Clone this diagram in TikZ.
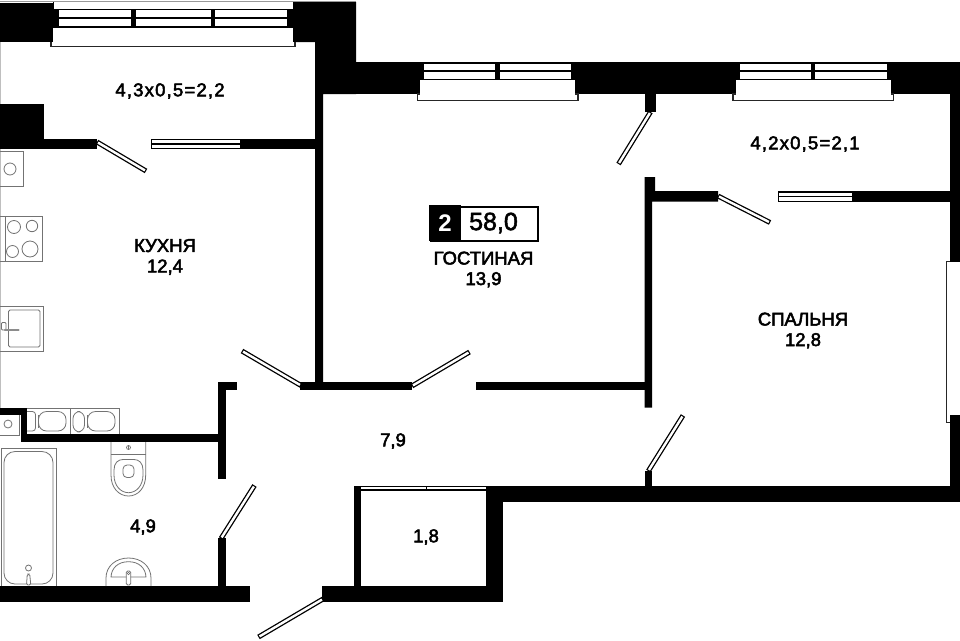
\documentclass[tikz,border=0pt]{standalone}
\usepackage{fontspec}
\setmainfont{Liberation Sans}
\newfontfamily\spacedfont[LetterSpace=6.5]{Liberation Sans}
\newcommand{\med}[1]{\special{pdf:code q 2 Tr 0.5 w}#1\special{pdf:code Q}}
\tikzset{
  x=1pt,y=-1pt,
  wall/.style={fill=black,draw=none},
  fixt/.style={draw=black!55,line width=0.8pt,fill=none},
  label/.style={inner sep=0pt,align=center,font=\fontsize{18.5}{20.5}\selectfont,text=black},
  sill/.style={fill=white,draw=black!85,line width=1.1pt},
  pane/.style={fill=white,draw=none}
}
\newcommand{\doorleaf}[2]{%
  \draw[black,line width=5pt] #1 -- #2;
  \draw[white,line width=2.4pt,shorten >=1.2pt,shorten <=1.2pt] #1 -- #2;}
\newcommand{\slider}[3]{% x0 x1 y-top
  \fill[black] (#1,#3) rectangle (#2,#3+10.4);
  \fill[white] (#1+0.8,#3+1.2) rectangle (#2,#3+4.4);
  \fill[white] (#1+0.8,#3+6) rectangle (#2,#3+9.2);}
\begin{document}
\begin{tikzpicture}
\useasboundingbox (0,0) rectangle (960,640);
\fill[white] (0,0) rectangle (960,640);
% thin grey outer lines
\draw[black!25,line width=1.2pt] (0.5,42) -- (0.5,104);
\draw[black!25,line width=1.2pt] (0.5,149) -- (0.5,408);
\draw[black!40,line width=1pt] (0,1) -- (356,1);
% ---------- walls
\fill[wall] (0,3) rectangle (53,42);
\fill[wall] (293,2) -- (356,2) -- (356,94) -- (323,94) -- (323,382) -- (315,382) -- (315,95) -- (315,42) -- (293,42) -- cycle;
\fill[wall] (356,62) rectangle (960,94);
\fill[wall] (950,62) rectangle (960,262);
\fill[wall] (950,415) rectangle (960,502);
\fill[wall] (0,104) rectangle (44,149);
\fill[wall] (44,138.5) rectangle (97,149);
\fill[wall] (240,138.5) rectangle (315,149);
\fill[wall] (644.7,94) rectangle (656,112);
\fill[wall] (644.7,177) -- (655,177) -- (655,191) -- (718,191) -- (718,201.5) -- (652,201.5) -- (652,407.7) -- (644.7,407.7) -- cycle;
\fill[wall] (851,191) rectangle (950,202);
\fill[wall] (300,382) rectangle (412,390);
\fill[wall] (476,382) rectangle (645,390);
\fill[wall] (218,382) rectangle (236.7,390);
\fill[wall] (218,382) rectangle (226,479);
\fill[wall] (20.7,434) rectangle (218,442);
\fill[wall] (0,408) rectangle (27,415);
\fill[wall] (20.7,408) rectangle (27,442);
\fill[wall] (218,538) rectangle (226,586);
\fill[wall] (0,585.7) rectangle (250,602);
\fill[wall] (644.7,471) rectangle (652,486);
\fill[wall] (486,485.7) rectangle (960,501.7);
\fill[wall] (486,485.7) rectangle (502.7,602);
\fill[wall] (353.5,485.7) rectangle (361,586);
\fill[wall] (322,585.7) rectangle (502.7,602);
% ---------- window 1
\fill[black] (53,2) rectangle (293,27.5);
\fill[white] (54,2) rectangle (292.5,9);
\foreach \a/\b in {59/131,136/211,215/287}{
  \fill[pane] (\a,10) rectangle (\b,16.7);
  \fill[pane] (\a,18.7) rectangle (\b,25.7);}
\fill[white] (54,27.5) rectangle (292.5,42);
\draw[sill] (51,42) -- (51,46.5) -- (295,46.5) -- (295,42);
\fill[white] (51.6,42) rectangle (294.4,46);
% ---------- window 2
\fill[white] (420,80) rectangle (575,94);
\foreach \a/\b in {424/495,500/571}{
  \fill[pane] (\a,63.5) rectangle (\b,70);
  \fill[pane] (\a,72) rectangle (\b,79);}
\draw[sill] (417.5,94) -- (417.5,100.2) -- (578,100.2) -- (578,94) -- cycle;
\fill[white] (420,90) rectangle (575,99);
% ---------- window 3
\fill[white] (736,80) rectangle (891,94);
\foreach \a/\b in {739.5/811,815/887}{
  \fill[pane] (\a,63.5) rectangle (\b,70);
  \fill[pane] (\a,72) rectangle (\b,79);}
\draw[sill] (733,94) -- (733,100.2) -- (893.5,100.2) -- (893.5,94) -- cycle;
\fill[white] (736,90) rectangle (891,99);
% ---------- right window
\draw[black!85,fill=white,line width=1pt] (950,261) -- (946,261) -- (946,422) -- (950,422);
% ---------- sliding panels
\slider{151}{240}{138.8}
\slider{778}{851.5}{191.4}
% ---------- closet doors
\fill[black] (361,486) rectangle (486,490.5);
\fill[white] (361,487.4) rectangle (425.5,489.3);
\fill[white] (426.7,487.4) rectangle (486,489.3);
% ---------- door leaves
\doorleaf{(97,142)}{(146,171)}
\doorleaf{(650.5,112)}{(618.5,164)}
\doorleaf{(718,196)}{(770,222.5)}
\doorleaf{(242,351)}{(301,385.5)}
\doorleaf{(412,386)}{(469.5,352)}
\doorleaf{(648.3,471)}{(683,415.5)}
\doorleaf{(221,538.5)}{(254.5,485.5)}
\doorleaf{(323,599)}{(258.5,637)}
% ---------- kitchen fixtures
\draw[fixt] (0,151.5) -- (23,151.5) -- (23,186) -- (0,186);
\draw[fixt] (10,169) circle (6);
\draw[fixt] (0,216) -- (42,216) -- (42,261) -- (0,261);
\draw[fixt] (5,216) -- (5,261);
\draw[fixt] (14,227) circle (6.5);
\draw[fixt] (32,226) circle (5.7);
\draw[fixt] (12.5,251.5) circle (6);
\draw[fixt] (30,249) circle (8);
\draw[fixt] (0,306.7) -- (43,306.7) -- (43,351) -- (0,351);
\draw[fixt,rounded corners=1.5pt] (8.5,310) rectangle (40,347);
\draw[fixt,rounded corners=1pt] (1.5,322.5) rectangle (6,330);
\draw[black!45,line cap=round,line width=2.2pt] (5,329.8) -- (18.5,329.8);
% ---------- appliances
\draw[fixt] (27,408.5) -- (119,408.5) -- (119,434);
\draw[fixt] (70,408.5) -- (70,434);
\draw[fixt,rounded corners=3pt] (27,411.5) -- (35.5,411.5) -- (35.5,431) -- (27,431);
\draw[fixt,rounded corners=8pt] (38.5,411.5) -- (66,411.5) -- (66,431) -- (38.5,431) -- cycle;
\draw[fixt] (38.5,415) -- (38.5,428);
\draw[fixt,rounded corners=7pt] (84.5,411.5) -- (73,411.5) -- (73,432) -- (84.5,432) -- cycle;
\draw[fixt,rounded corners=8pt] (87.5,411.5) -- (115,411.5) -- (115,431) -- (87.5,431) -- cycle;
\draw[fixt] (87.5,415) -- (87.5,428);
\draw[fixt] (0,435) -- (19,435) -- (19,415);
\draw[fixt] (8,424) circle (4);
% ---------- bath
\draw[fixt] (1,586) -- (1,448.5) -- (56.5,448.5) -- (56.5,586);
\draw[fixt,rounded corners=11pt] (4,451.5) rectangle (53,584);
\draw[fixt,fill=white] (28.5,568) circle (3);
\draw[fixt,fill=white,rounded corners=1.5pt] (26.5,585) -- (27.3,574) -- (29.7,574) -- (30.8,585) -- cycle;
% ---------- toilet
\draw[fixt] (111,442) -- (111,475) .. controls (111,488) and (119,496) .. (128.5,496) .. controls (138,496) and (145.7,488) .. (145.7,475) -- (145.7,442);
\draw[fixt] (111,454.5) -- (145.7,454.5);
\draw[fixt] (114,470) .. controls (114,463) and (118,459.5) .. (123,459.5) -- (134,459.5) .. controls (139,459.5) and (143,463) .. (143,470) -- (143,475) .. controls (143,486) and (136,492.7) .. (128.5,492.7) .. controls (121,492.7) and (114,486) .. (114,475) -- cycle;
\draw[fixt,rounded corners=4pt] (123,465) rectangle (134,477.5);
\draw[fixt,line width=0.7pt] (128.5,447.5) circle (2);
\draw[fixt,line width=0.5pt] (128.5,445.5) -- (128.5,449.5);
% ---------- basin
\draw[fixt] (106,586) -- (106,578) .. controls (106,566) and (116,558) .. (128.5,558) .. controls (141,558) and (151,566) .. (151,578) -- (151,586);
\draw[fixt] (111,577) .. controls (111.5,568) and (118,561.7) .. (128.5,561.7) .. controls (139,561.7) and (145.5,568) .. (146,577) -- cycle;
\draw[fixt,fill=white,rounded corners=1.5pt] (126.3,585) -- (126.3,571) -- (130.7,571) -- (130.7,585) -- cycle;
\draw[fixt,line width=0.6pt] (128.5,573.5) circle (1.3);
% ---------- badge
\node[rectangle,draw=black,fill=white,line width=2pt,minimum width=107pt,minimum height=34pt,inner sep=0pt,anchor=north west] (badge) at (430,206) {};
\fill[black] (429,205) rectangle (461,241);
\node[inner sep=0pt,text=white,font=\bfseries\fontsize{24}{26}\selectfont] (rooms) at (445,223) {2};
\node[inner sep=0pt,font=\fontsize{25}{27}\selectfont] (area) at (493.5,223) {\med{58,0}};
% ---------- labels
\node[label,font=\spacedfont\fontsize{18.5}{20.5}\selectfont] (balcA) at (170,91) {\med{4,3x0,5=2,2}};
\node[label,font=\spacedfont\fontsize{18.5}{20.5}\selectfont] (balcB) at (805,144) {\med{4,2x0,5=2,1}};
\node[label] (kitchen) at (165,257) {\med{КУХНЯ}\\\med{12,4}};
\node[label] (living) at (483.5,269.5) {\med{ГОСТИНАЯ}\\\med{13,9}};
\node[label] (bedroom) at (803,330.5) {\med{СПАЛЬНЯ}\\\med{12,8}};
\node[label] (hall) at (393,441) {\med{7,9}};
\node[label] (bath) at (143,527) {\med{4,9}};
\node[label] (closet) at (426,537) {\med{1,8}};
\end{tikzpicture}
\end{document}
